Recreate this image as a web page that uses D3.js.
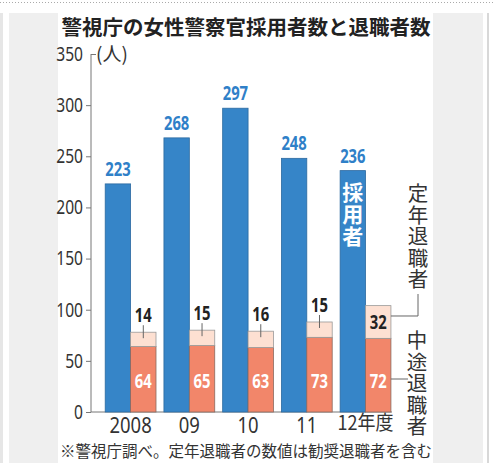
<!DOCTYPE html>
<html>
<head>
<meta charset="utf-8">
<script src="https://cdn.jsdelivr.net/npm/d3@7"></script>
<style>
  body { margin: 0; background: #fff; }
  svg { display: block; }
</style>
</head>
<body>
<div class="chart-wrapper"></div>
<script>
const years = ['2008', '09', '10', '11', '12年度'];
const hired = [223, 268, 297, 248, 236];
const midway = [64, 65, 63, 73, 72];     // 中途退職者
const retired = [14, 15, 16, 15, 32];    // 定年退職者
const yTicks = [0, 50, 100, 150, 200, 250, 300, 350];

const title = '警視庁の女性警察官採用者数と退職者数';
const note = '※警視庁調べ。定年退職者の数値は勧奨退職者を含む';

function drawChart() {
    const dims = {
        width: 493,
        height: 470,
        margin: { top: 54, right: 101, bottom: 58, left: 91 },
    };
    dims.boundedWidth = dims.width - dims.margin.left - dims.margin.right;
    dims.boundedHeight = dims.height - dims.margin.top - dims.margin.bottom;

    const jp = '"Noto Sans CJK JP", "Noto Sans", sans-serif';
    const num = '"Noto Sans", "Open Sans", sans-serif';
    const squeeze = 0.78; // condensed look for the numbers

    const svg = d3.select('.chart-wrapper')
        .append('svg')
        .attr('width', dims.width)
        .attr('height', dims.height);

    // page frame
    svg.append('line')
        .attr('x1', 0).attr('x2', dims.width)
        .attr('y1', 2.5).attr('y2', 2.5)
        .attr('stroke', '#aaa')
        .attr('stroke-dasharray', '1,2');
    svg.append('rect').attr('x', 0).attr('y', 13).attr('width', 3).attr('height', 450).attr('fill', '#e6e6e6');
    svg.append('rect').attr('x', 487).attr('y', 13).attr('width', 2).attr('height', 450).attr('fill', '#d8d8d8');
    svg.append('rect').attr('x', 9).attr('y', 13).attr('width', 474).attr('height', 450).attr('fill', '#efefef');
    svg.append('rect').attr('x', 58).attr('y', 13).attr('width', 375).attr('height', 450).attr('fill', '#fff');

    svg.append('text')
        .attr('x', 246).attr('y', 35)
        .attr('text-anchor', 'middle')
        .style('font-family', jp)
        .style('font-weight', 'bold')
        .style('font-size', '20.5px')
        .attr('fill', '#222')
        .text(title);

    svg.append('text')
        .attr('x', 246).attr('y', 457)
        .attr('text-anchor', 'middle')
        .style('font-family', jp)
        .style('font-size', '15.5px')
        .attr('fill', '#333')
        .text(note);

    const bounds = svg.append('g')
        .attr('transform', `translate(${dims.margin.left}, ${dims.margin.top})`);

    const yScale = d3.scaleLinear()
        .domain([0, 350])
        .range([dims.boundedHeight, 0]);

    const xScale = d3.scaleBand()
        .domain(years)
        .range([0, dims.boundedWidth])
        .paddingInner(0.135)
        .paddingOuter(0.13)
        .align(0.93);

    const subScale = d3.scaleBand()
        .domain(['hired', 'left'])
        .range([0, xScale.bandwidth()]);

    // squeezed number label at (x, y)
    const numLabel = (parent, x, y, txt, opts) => parent.append('text')
        .attr('transform', `translate(${x},${y}) scale(${squeeze},1)`)
        .attr('text-anchor', opts.anchor || 'middle')
        .style('font-family', num)
        .style('font-weight', opts.weight || 'bold')
        .style('font-size', opts.size || '19px')
        .attr('fill', opts.fill)
        .text(txt);

    // y axis
    const yAxis = d3.axisLeft(yScale)
        .tickValues(yTicks)
        .tickSize(5)
        .tickPadding(4);
    const yAxisG = bounds.append('g').call(yAxis);
    yAxisG.select('.domain').remove();
    yAxisG.selectAll('line').attr('stroke', '#777');
    yAxisG.selectAll('text')
        .attr('x', -8 / squeeze)
        .attr('transform', `scale(${squeeze},1)`)
        .style('font-family', num)
        .style('font-size', '20px')
        .attr('fill', '#333');
    // top tick points right
    yAxisG.selectAll('.tick').filter(d => d === 350).select('line')
        .attr('x2', 5);
    yAxisG.append('line')
        .attr('x1', 0).attr('x2', 0)
        .attr('y1', yScale(350)).attr('y2', yScale(0))
        .attr('stroke', '#777');

    bounds.append('text')
        .attr('x', 5).attr('y', yScale(350) + 7)
        .style('font-family', jp)
        .style('font-size', '19px')
        .attr('fill', '#333')
        .text('(人)');

    // x axis
    const xAxis = d3.axisBottom(xScale).tickSize(0).tickPadding(4);
    const xAxisG = bounds.append('g')
        .attr('transform', `translate(0, ${dims.boundedHeight})`)
        .call(xAxis);
    xAxisG.select('.domain')
        .attr('d', `M0,0H${xScale(years[4]) + xScale.bandwidth() + 1}`)
        .attr('stroke', '#777');
    xAxisG.selectAll('text')
        .attr('transform', `scale(${squeeze + 0.06},1)`)
        .style('font-family', num)
        .style('font-size', '22px')
        .attr('fill', '#333')
        .attr('dy', '0.78em');
    xAxisG.selectAll('.tick').filter(d => d === '12年度').select('text')
        .attr('transform', 'scale(0.9,1)')
        .style('font-family', jp)
        .style('font-size', '20px')
        .attr('dy', '0.72em');

    const rows = years.map((y, i) => ({
        year: y, hired: hired[i], midway: midway[i], retired: retired[i],
    }));

    const groups = bounds.selectAll('.group')
        .data(rows)
        .join('g')
        .attr('class', 'group')
        .attr('transform', d => `translate(${xScale(d.year)}, 0)`);

    const hc = subScale('hired') + subScale.bandwidth() / 2;
    const lc = subScale('left') + subScale.bandwidth() / 2;

    // 採用者
    groups.append('rect')
        .attr('x', subScale('hired'))
        .attr('width', subScale.bandwidth())
        .attr('y', d => yScale(d.hired))
        .attr('height', d => yScale(0) - yScale(d.hired))
        .attr('fill', '#3685c8')
        .attr('stroke', '#2c6aa0')
        .attr('stroke-width', 0.8);

    // 中途退職者
    groups.append('rect')
        .attr('x', subScale('left'))
        .attr('width', subScale.bandwidth())
        .attr('y', d => yScale(d.midway))
        .attr('height', d => yScale(0) - yScale(d.midway))
        .attr('fill', '#f2866a')
        .attr('stroke', '#8a6a60')
        .attr('stroke-width', 0.8);

    // 定年退職者
    groups.append('rect')
        .attr('x', subScale('left'))
        .attr('width', subScale.bandwidth())
        .attr('y', d => yScale(d.midway + d.retired))
        .attr('height', d => yScale(d.midway) - yScale(d.midway + d.retired))
        .attr('fill', '#fde0d2')
        .attr('stroke', '#999')
        .attr('stroke-width', 0.8);

    groups.each(function (d, i) {
        const g = d3.select(this);
        const top = yScale(d.midway + d.retired);
        numLabel(g, hc, yScale(d.hired) - 8, d.hired, { fill: '#2f80c8' });
        numLabel(g, lc, yScale(0) - 24, d.midway, { fill: '#fff' });
        if (i === years.length - 1) {
            numLabel(g, lc, (top + yScale(d.midway)) / 2 + 7, d.retired, { fill: '#222' });
        } else {
            g.append('line')
                .attr('x1', lc).attr('x2', lc)
                .attr('y1', top - 7).attr('y2', top + 6)
                .attr('stroke', '#666');
            numLabel(g, lc, top - 10, d.retired, { fill: '#222' });
        }
    });

    // labels on the last group
    const last = rows[rows.length - 1];
    const gx = xScale(last.year);
    const rightEdge = gx + xScale.bandwidth();

    const drawVertical = (str, x, y0, opts) => bounds.append('text')
        .attr('x', x)
        .attr('y', y0)
        .style('writing-mode', 'vertical-rl')
        .style('font-family', jp)
        .style('font-size', opts.size)
        .style('font-weight', opts.weight || 'normal')
        .style('letter-spacing', opts.spacing || '0px')
        .attr('fill', opts.fill)
        .text(str);

    drawVertical('採用者', gx + hc, 128, { size: '21px', weight: 'bold', fill: '#fff', spacing: '1px' });
    drawVertical('定年退職者', 327, 129, { size: '20.5px', fill: '#333', spacing: '1px' });
    drawVertical('中途退職者', 326, 276, { size: '20.5px', fill: '#333', spacing: '1px' });

    const retTop = yScale(last.midway + last.retired);
    const retMid = (retTop + yScale(last.midway)) / 2;
    bounds.append('path')
        .attr('d', `M${rightEdge},${retMid - 6}H${327}V${240}`)
        .attr('fill', 'none')
        .attr('stroke', '#666');
    bounds.append('path')
        .attr('d', `M${rightEdge},${yScale(0) - 33}H${317}`)
        .attr('fill', 'none')
        .attr('stroke', '#666');
}

drawChart();
</script>
</body>
</html>
